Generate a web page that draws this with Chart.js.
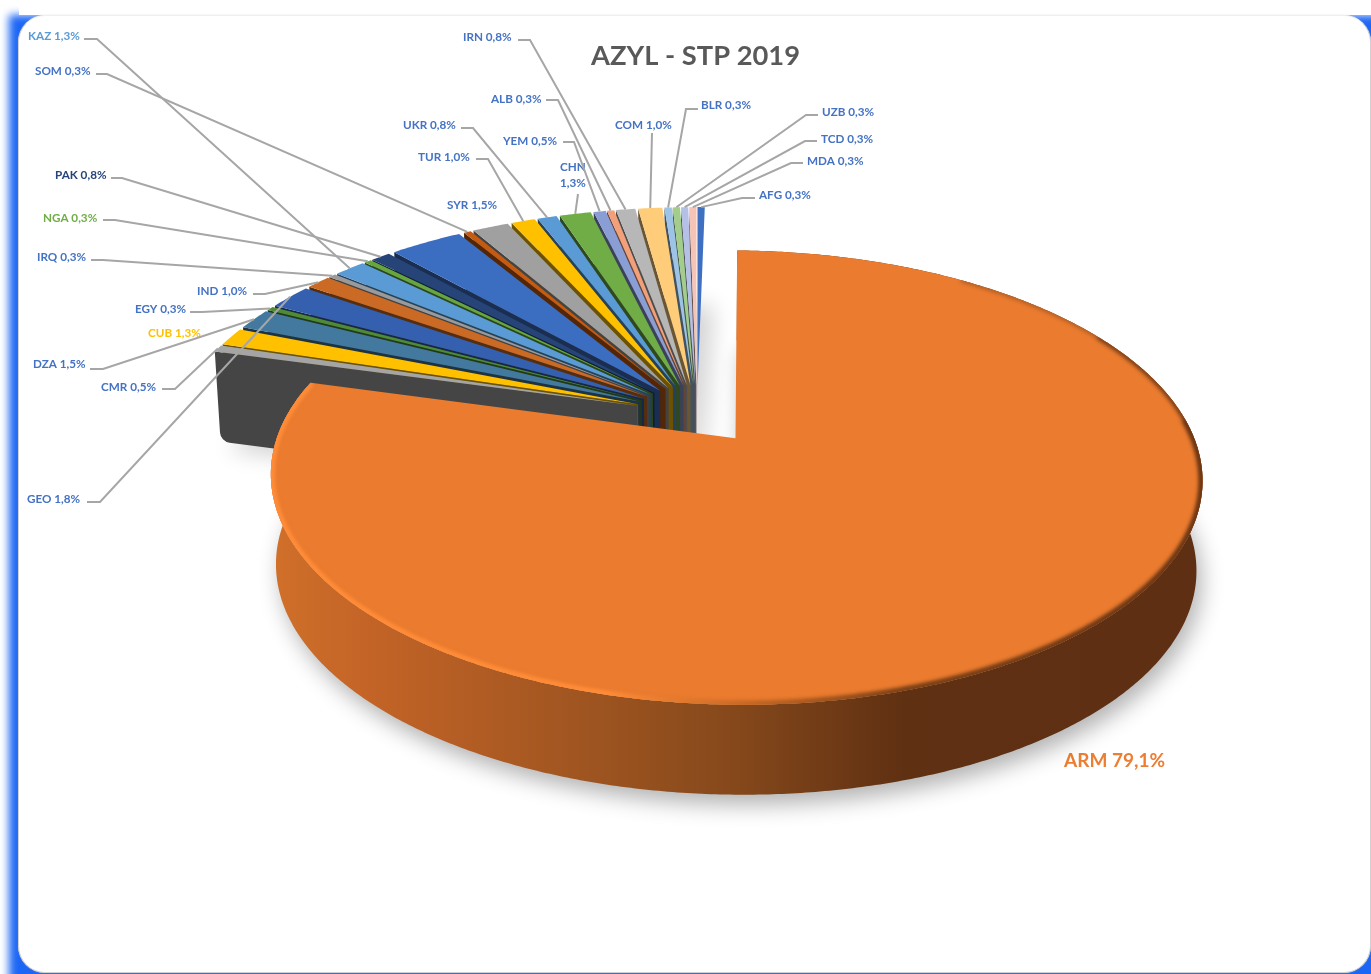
<!DOCTYPE html>
<html>
<head>
<meta charset="utf-8">
<title>AZYL - STP 2019</title>
<script src="https://cdn.jsdelivr.net/npm/chart.js@4"></script>
<style>
  html, body { margin: 0; padding: 0; background: #fff; overflow: hidden; }
  #page { position: relative; width: 1371px; height: 974px; overflow: hidden; }
  #glow { position: absolute; left: 9px; top: 15px; width: 1400px; height: 1000px; background: #1c66f6; filter: blur(4px); }
  #cover { position: absolute; left: 19px; top: 0; width: 1352px; height: 15px; background: #fff; }
  #panel { position: absolute; left: 18px; top: 15px; width: 1351px; height: 956px; background: #fff;
           border: 1px solid #d0d0d0; border-top-color: #f0f0f0; border-radius: 27px; box-shadow: 0 0 1px #bbb; }
  canvas { position: absolute; left: 0; top: 0; }
</style>
</head>
<body>
<div id="page">
  <div id="glow"></div>
  <div id="cover"></div>
  <div id="panel"></div>
  <canvas id="grafico" width="1371" height="974"></canvas>
</div>
<script>
const categories = ["AFG", "ARM", "CMR", "CUB", "DZA", "EGY", "GEO", "IND", "IRQ", "KAZ", "NGA", "PAK", "", "SOM", "SYR", "TUR", "UKR", "CHN", "YEM", "ALB", "IRN", "COM", "BLR", "UZB", "TCD", "MDA"];
const values = [0.3, 79.1, 0.5, 1.3, 1.5, 0.3, 1.8, 1.0, 0.3, 1.3, 0.3, 0.8, 3.0, 0.3, 1.5, 1.0, 0.8, 1.3, 0.5, 0.3, 0.8, 1.0, 0.3, 0.3, 0.3, 0.3];
const sliceColors = ["#3e6fc0", "#ea7b2f", "#a5a5a5", "#ffc000", "#44799f", "#4f8a34", "#3560b0", "#cb6a24", "#9a9a9a", "#5b9bd5", "#66a53f", "#264478", "#3b6dc0", "#c55a11", "#a0a0a0", "#ffc000", "#5b9bd5", "#70ad47", "#8a9ed6", "#f1a07a", "#b7b7b7", "#ffcd7a", "#9dc3e6", "#a2cd8a", "#b4c0e6", "#f5c4b6"];

// texte et traits de rappel, par pays
const labelColors = { KAZ: "#5b9bd5", PAK: "#264478", NGA: "#70ad47", CUB: "#ffc000", ARM: "#ed7d31" };
const labelSpots = {
  KAZ: [28, 36, [84, 39], [97, 39]], SOM: [35, 71, [96, 74], [107, 74]], PAK: [55, 175, [111, 178], [122, 178]],
  NGA: [43, 218, [103, 220], [115, 220]], IRQ: [37, 257, [91, 260], [103, 260]], IND: [197, 291, [253, 294], [265, 294]],
  EGY: [135, 309, [190, 312], [202, 312]], CUB: [148, 333], DZA: [33, 364, [90, 369], [103, 369]],
  CMR: [101, 387, [162, 389], [175, 389]], GEO: [27, 499, [87, 502], [100, 502]], IRN: [463, 37, [518, 40], [530, 40]],
  ALB: [491, 99, [546, 100], [558, 100]], UKR: [403, 125, [461, 128], [473, 128]], TUR: [418, 157, [476, 159], [488, 159]],
  SYR: [447, 205], YEM: [503, 141, [563, 142], [574, 142]], CHN: [560, 167, [578, 194]], COM: [615, 125, [652, 133]],
  BLR: [701, 105, [698, 109], [686, 109]], UZB: [822, 112, [818, 115], [806, 115]], TCD: [821, 139, [817, 141], [805, 141]],
  MDA: [807, 161, [803, 163], [791, 163]], AFG: [759, 195, [755, 198], [742, 198]]
};

// projection du disque (perspective) et explosion des parts
const X0 = 697, Y0 = 414, RU = 450, RV = 212, PERSP = 0.17, EXPLODE = 0.14, DROP = 90, LOW_K = 0.988, SMALL_R = 1.03;
const FAR = 4000; // forme hors cadre : seule son ombre reste visible

function project(u, v, drop) {
  const w = 1 - PERSP * v;
  const k = drop ? LOW_K : 1;
  return { x: X0 + RU * u / w * k, y: Y0 + RV * v / w + (drop || 0) };
}

// angles en degres depuis midi, sens horaire
function rimPoint(theta, mid, r, drop) {
  const a = theta * Math.PI / 180, m = mid * Math.PI / 180;
  const u = EXPLODE * Math.sin(m) + r * Math.sin(a);
  const v = -EXPLODE * Math.cos(m) - r * Math.cos(a);
  return project(u, v, drop);
}

function sliceAngles(arc) {
  const s = (arc.startAngle + Math.PI / 2) * 180 / Math.PI;
  const e = (arc.endAngle + Math.PI / 2) * 180 / Math.PI;
  return { s, e, mid: (s + e) / 2 };
}

function rimPoints(a, r, drop) {
  const pts = [];
  const n = Math.max(2, Math.ceil((a.e - a.s) * 2));
  for (let i = 0; i <= n; i++) pts.push(rimPoint(a.s + (a.e - a.s) * i / n, a.mid, r, drop));
  return pts;
}

function tracePoly(ctx, pts) {
  ctx.moveTo(pts[0].x, pts[0].y);
  for (let i = 1; i < pts.length; i++) ctx.lineTo(pts[i].x, pts[i].y);
  ctx.closePath();
}

function darken(hex, f) {
  const n = parseInt(hex.slice(1), 16);
  const c = [n >> 16, (n >> 8) & 255, n & 255].map(v => Math.round(v * f));
  return `rgb(${c[0]},${c[1]},${c[2]})`;
}

function topPoly(a, r, drop) {
  return [rimPoint(0, a.mid, 0, drop)].concat(rimPoints(a, r, drop));
}

function castShadow(ctx, polys, color, blur, dx, dy) {
  ctx.save();
  ctx.shadowColor = color;
  ctx.shadowBlur = blur;
  ctx.shadowOffsetX = FAR + dx;
  ctx.shadowOffsetY = dy;
  ctx.beginPath();
  polys.forEach(p => tracePoly(ctx, p.map(q => ({ x: q.x - FAR, y: q.y }))));
  ctx.fillStyle = "#000";
  ctx.fill();
  ctx.restore();
}

function drawSmallSlice(ctx, arc) {
  const a = sliceAngles(arc);
  const color = arc.options.backgroundColor;
  const apex = rimPoint(0, a.mid, 0);
  const apexLow = rimPoint(0, a.mid, 0, DROP);
  const rim = rimPoint(a.s, a.mid, SMALL_R);
  const rimLow = rimPoint(a.s, a.mid, SMALL_R, DROP);

  // face radiale visible, coin du bas arrondi
  ctx.beginPath();
  ctx.moveTo(apex.x, apex.y);
  ctx.lineTo(rim.x, rim.y);
  ctx.arcTo(rimLow.x, rimLow.y, apexLow.x, apexLow.y, 11);
  ctx.lineTo(apexLow.x, apexLow.y);
  ctx.closePath();
  ctx.fillStyle = darken(color, 0.42);
  ctx.fill();

  ctx.beginPath();
  tracePoly(ctx, topPoly(a, SMALL_R));
  ctx.fillStyle = color;
  ctx.fill();
}

function drawBigSlice(ctx, arc) {
  const a = sliceAngles(arc);
  const top = rimPoints(a, 1);
  const low = rimPoints(a, 1, DROP).reverse();

  castShadow(ctx, [topPoly(a, 1, DROP)], "rgba(0,0,0,0.3)", 22, 5, 10);

  const wall = ctx.createLinearGradient(271, 0, 1203, 0);
  wall.addColorStop(0, "#d0702a");
  wall.addColorStop(0.1, "#c46427");
  wall.addColorStop(0.35, "#9d5420");
  wall.addColorStop(0.5, "#85481b");
  wall.addColorStop(0.68, "#5f3012");
  wall.addColorStop(1, "#5e2f12");
  ctx.beginPath();
  tracePoly(ctx, top.concat(low));
  ctx.fillStyle = wall;
  ctx.fill();

  const poly = topPoly(a, 1);
  ctx.beginPath();
  tracePoly(ctx, poly);
  ctx.fillStyle = arc.options.backgroundColor;
  ctx.fill();

  // liseret du bord : fin a l'arriere, large a l'avant
  const edge = ctx.createLinearGradient(271, 0, 1203, 0);
  edge.addColorStop(0, "#ff8c38");
  edge.addColorStop(0.36, "#ff8c38");
  edge.addColorStop(0.5, "#c96a26");
  edge.addColorStop(0.68, "#7a4017");
  edge.addColorStop(1, "#6b3614");
  ctx.save();
  ctx.beginPath();
  tracePoly(ctx, poly);
  ctx.clip();
  ctx.filter = "blur(2px)";
  ctx.strokeStyle = edge;
  [[35, 2], [60, 4], [85, 7]].forEach(([from, width]) => {
    ctx.lineWidth = width;
    ctx.beginPath();
    rimPoints({ s: from, e: a.e, mid: a.mid }, 1).forEach((p, i) => i ? ctx.lineTo(p.x, p.y) : ctx.moveTo(p.x, p.y));
    ctx.stroke();
  });
  ctx.restore();
}

function drawLabels(ctx, arcs) {
  ctx.lineWidth = 2;
  ctx.strokeStyle = "#a6a6a6";
  ctx.textBaseline = "middle";
  ctx.textAlign = "left";
  categories.forEach((cat, i) => {
    const spot = labelSpots[cat];
    if (!spot) return;
    const a = sliceAngles(arcs[i]);
    const stops = spot.slice(2);
    if (stops.length) {
      const end = rimPoint(a.mid, a.mid, SMALL_R);
      ctx.beginPath();
      ctx.moveTo(stops[0][0], stops[0][1]);
      stops.slice(1).forEach(p => ctx.lineTo(p[0], p[1]));
      ctx.lineTo(end.x, end.y);
      ctx.stroke();
    }
    const pct = values[i].toFixed(1).replace(".", ",") + "%";
    ctx.font = "bold 11.7px Lato";
    ctx.fillStyle = labelColors[cat] || "#4472c4";
    if (cat === "CHN") {
      ctx.fillText(cat, spot[0], spot[1]);
      ctx.fillText(pct, spot[0], spot[1] + 16);
    } else {
      ctx.fillText(cat + " " + pct, spot[0], spot[1]);
    }
  });
  ctx.font = "bold 19px Lato";
  ctx.fillStyle = labelColors.ARM;
  ctx.fillText("ARM " + values[1].toFixed(1).replace(".", ",") + "%", 1064, 761);
}

const pie3d = {
  id: "pie3d",
  beforeDatasetDraw(chart) {
    const ctx = chart.ctx;
    const arcs = chart.getDatasetMeta(0).data;
    // du fond (midi) vers l'avant
    const order = [0].concat(arcs.map((_, i) => i).filter(i => i > 1).reverse());
    castShadow(ctx, order.map(i => topPoly(sliceAngles(arcs[i]), SMALL_R, DROP)), "rgba(0,0,0,0.2)", 22, 8, 8);
    order.forEach(i => drawSmallSlice(ctx, arcs[i]));
    drawLabels(ctx, arcs);
    drawBigSlice(ctx, arcs[1]);
    return false;
  }
};

new Chart(document.getElementById("grafico"), {
  type: "pie",
  data: {
    labels: categories,
    datasets: [{ data: values, backgroundColor: sliceColors, borderWidth: 0 }]
  },
  options: {
    responsive: false,
    animation: false,
    layout: { padding: { left: 20 } },
    plugins: {
      legend: { display: false },
      tooltip: { enabled: false },
      title: {
        display: true,
        text: "AZYL - STP 2019",
        color: "#595959",
        font: { family: "Lato", size: 27.3, weight: "bold" },
        padding: { top: 40, bottom: 0 }
      }
    }
  },
  plugins: [pie3d]
});
</script>
</body>
</html>
